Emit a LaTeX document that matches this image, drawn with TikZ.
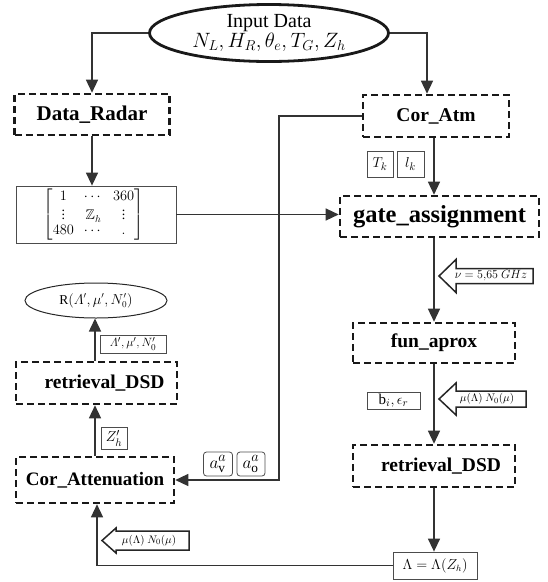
\documentclass[tikz,border=0pt]{standalone}
\usepackage{amsmath,amssymb}
\usepackage{fontspec}
\setmainfont{Liberation Serif}
\usetikzlibrary{arrows.meta,shapes.geometric,calc}
\begin{document}
\begin{tikzpicture}[x=1pt,y=-1pt,
  dbox/.style={draw=black!90, line width=2.6pt, dash pattern=on 7pt off 4pt, inner sep=0pt,
     font=\fontsize{19.5}{21}\selectfont\bfseries},
  conn/.style={line width=1.4pt, draw=black!80, -{Triangle[length=13pt,width=12pt]}},
  tbox/.style={draw=black!70, line width=0.8pt, inner sep=0pt},
  lbl/.style={inner sep=0pt},
  pics/harrow/.style args={#1/#2/#3/#4}{code={
     \draw[line width=1.5pt, draw=black!85, fill=white, line join=miter]
       (0,0) -- (#2,-#3) -- (#2,-#4) -- (#1,-#4) -- (#1,#4) -- (#2,#4) -- (#2,#3) -- cycle;}}
]
\useasboundingbox (0,0) rectangle (548,582);

% nodes
\node[ellipse, draw=black!90, line width=2.8pt, minimum width=239pt, minimum height=57pt,
      inner sep=0pt, align=center, font=\fontsize{20}{20}\selectfont] (in) at (269,33)
      {Input Data\\ $N_L, H_R, \theta_e, T_G, Z_h$};

\node[dbox, minimum width=155pt, minimum height=41pt, font=\fontsize{21}{22}\selectfont\bfseries] (dr) at (92,114.5) {Data\_Radar};
\node[dbox, minimum width=146pt, minimum height=42pt] (ca) at (436,116) {Cor\_Atm};
\node[dbox, minimum width=199pt, minimum height=41pt, font=\fontsize{24.5}{26}\selectfont\bfseries] (ga) at (439.5,216.5) {gate\_assignment};
\node[dbox, minimum width=162pt, minimum height=40pt] (fa) at (434,343) {fun\_aprox};
\node[dbox, minimum width=162pt, minimum height=42pt] (rr) at (434,466) {\hspace*{14pt}retrieval\_DSD};
\node[dbox, minimum width=161pt, minimum height=42pt] (rl) at (96.5,383) {\hspace*{16pt}retrieval\_DSD};
\node[dbox, minimum width=158pt, minimum height=46pt, font=\fontsize{19}{20}\selectfont\bfseries] (cat) at (95,480) {Cor\_Attenuation};

\node[tbox, minimum width=160pt, minimum height=57pt, font=\fontsize{14}{15}\selectfont] (mx) at (96,214.5)
  {\setlength\arraycolsep{5pt}\hspace*{-5pt}$\begin{bmatrix}1&\cdots&360\\ \vdots&\mathbb{Z}_h&\vdots\\ 480&\cdots&.\end{bmatrix}$};

\node[ellipse, draw=black!85, line width=1pt, minimum width=142pt, minimum height=35pt, inner sep=0pt,
      font=\fontsize{13.5}{14}\selectfont] (re) at (96,300.5) {$\mathrm{R}(\varLambda',\mu',N_0')$};

\node[tbox, minimum width=26pt, minimum height=26pt, font=\fontsize{15}{16}\selectfont] (tk) at (380,164) {$T_k$};
\node[tbox, minimum width=27pt, minimum height=26pt, font=\fontsize{15}{16}\selectfont] (lk) at (410.5,164) {$l_k$};
\node[tbox, minimum width=53pt, minimum height=17pt, font=\fontsize{15}{16}\selectfont] (bi) at (393.5,400.5) {$\mathrm{b}_i,\epsilon_r$};
\node[tbox, minimum width=66pt, minimum height=18pt, font=\fontsize{12.5}{13}\selectfont] (lp) at (133,344) {$\varLambda',\mu',N_0'$};
\node[tbox, minimum width=26pt, minimum height=22pt, font=\fontsize{15}{16}\selectfont] (zh) at (114,438) {$Z_h'$};
\node[tbox, rounded corners=3pt, minimum width=29pt, minimum height=24pt, font=\fontsize{19}{20}\selectfont] (av) at (218,464) {$a_{\mathrm{v}}^{a}$};
\node[tbox, rounded corners=3pt, minimum width=28pt, minimum height=24pt, font=\fontsize{19}{20}\selectfont] (ao) at (251,464) {$a_{\mathrm{o}}^{a}$};
\node[tbox, minimum width=84pt, minimum height=27pt, font=\fontsize{13.5}{14}\selectfont] (lam) at (435,565.5) {$\Lambda=\Lambda(Z_h)$};

% hollow arrows with labels
\pic at (439,276) {harrow=94/17/16.5/7.5};
\node[lbl, font=\fontsize{12.5}{13}\selectfont] (nu) at (491,276) {$\nu = 5{,}65\ GHz$};
\pic at (439,399) {harrow=87/17/16/8};
\node[lbl, font=\fontsize{11}{12}\selectfont] (mu1) at (487,399) {$\mu(\Lambda)\ N_0(\mu)$};
\pic at (102,540.5) {harrow=87/14/12.5/9.5};
\node[lbl, font=\fontsize{11}{12}\selectfont] (mu2) at (149,540.5) {$\mu(\Lambda)\ N_0(\mu)$};

% connectors
\coordinate (j1) at (279,116);
\draw[conn] (in.west) -| (dr.north);
\draw[conn] (in.east) -| ([xshift=-9pt]ca.north);
\draw[conn] (dr.south) -- (dr.south |- mx.north);
\draw[conn] (mx.east) -- (mx.east -| ga.west);
\draw[conn] (ca.west) -- (j1) |- (cat.east);
\draw[conn] (ca.south -| fa.north) -- (fa.north |- ga.north);
\draw[conn] (fa.north |- ga.south) -- (fa.north);
\draw[conn] (fa.south) -- (rr.north);
\draw[conn] (rr.south) -- (rr.south |- lam.north);
\draw[conn] (lam.west) -| ([xshift=2pt]cat.south);
\draw[conn] (cat.north) -- (cat.north |- rl.south);
\draw[conn] (rl.north -| cat.north) -- (cat.north |- re.south);
\end{tikzpicture}
\end{document}
